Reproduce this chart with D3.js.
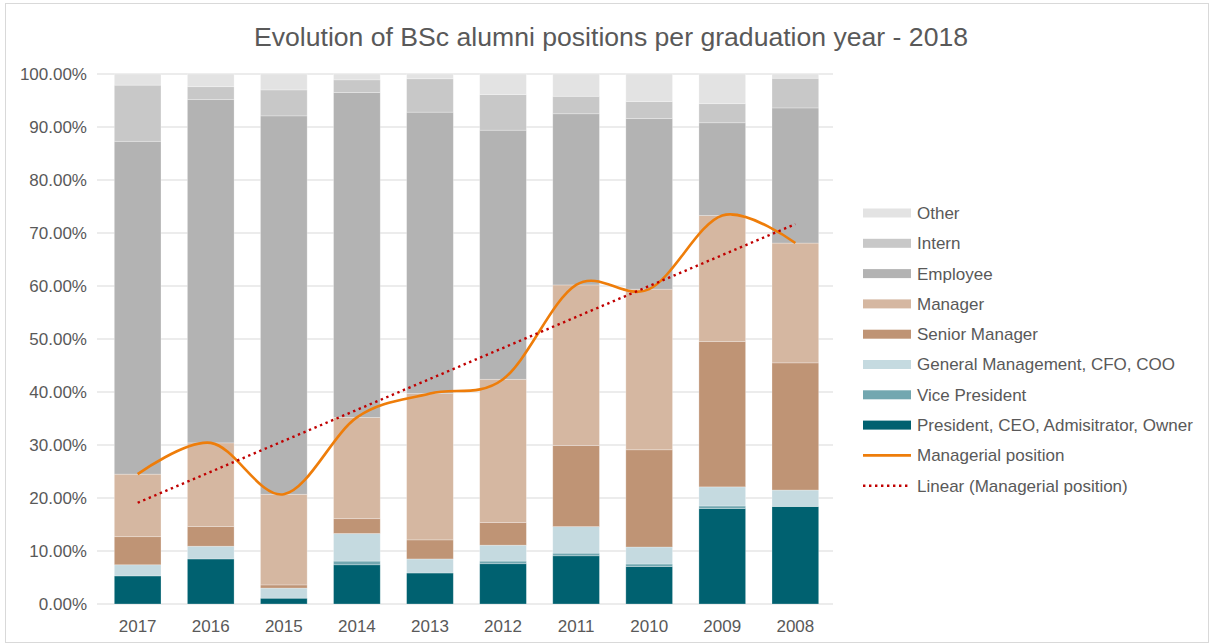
<!DOCTYPE html>
<html>
<head>
<meta charset="UTF-8">
<title>BSc alumni positions</title>
<script src="https://d3js.org/d3.v7.min.js"></script>
<style>
  body { margin: 0; background: #fff; }
  svg text { font-family: "Liberation Sans", Arial, sans-serif; fill: #595959; }
</style>
</head>
<body>
<svg id="chart" width="1214" height="644"></svg>
<script>
// graduation years (as shown, left to right)
var years = ["2017", "2016", "2015", "2014", "2013", "2012", "2011", "2010", "2009", "2008"];

// share of alumni per position, in %
var president = [5.3, 8.5, 1.1, 7.4, 5.85, 7.6, 9.1, 7.05, 18.0, 18.4];
var vicePresident = [0, 0, 0, 0.7, 0, 0.5, 0.5, 0.5, 0.5, 0];
var generalMgmt = [2.1, 2.4, 1.9, 5.2, 2.65, 3.0, 5.0, 3.2, 3.6, 3.1];
var seniorManager = [5.3, 3.7, 0.6, 2.8, 3.6, 4.25, 15.3, 18.35, 27.4, 24.0];
var manager = [11.8, 15.8, 17.1, 19.1, 27.6, 27.05, 30.3, 30.3, 23.8, 22.6];
var employee = [62.8, 64.8, 71.4, 61.3, 53.1, 47.0, 32.3, 32.2, 17.5, 25.5];
var intern = [10.6, 2.4, 4.9, 2.4, 6.3, 6.7, 3.3, 3.2, 3.6, 5.6];
var other = [2.1, 2.4, 3.0, 1.1, 0.9, 3.9, 4.2, 5.2, 5.6, 0.8];

var yTicks = [0, 10, 20, 30, 40, 50, 60, 70, 80, 90, 100];

var series = [
  { name: "President, CEO, Admisitrator, Owner", values: president, color: "#006170" },
  { name: "Vice President", values: vicePresident, color: "#72a7b0" },
  { name: "General Management, CFO, COO", values: generalMgmt, color: "#c5dae0" },
  { name: "Senior Manager", values: seniorManager, color: "#bf9475" },
  { name: "Manager", values: manager, color: "#d5b7a1" },
  { name: "Employee", values: employee, color: "#b3b3b3" },
  { name: "Intern", values: intern, color: "#c8c8c8" },
  { name: "Other", values: other, color: "#e3e3e3" }
];

// table for d3.stack
var rows = years.map(function(y, i) {
  var r = { year: y };
  series.forEach(function(s) { r[s.name] = s.values[i]; });
  return r;
});

// managerial position = president + VP + GM + senior manager + manager
var managerial = years.map(function(y, i) {
  return president[i] + vicePresident[i] + generalMgmt[i] + seniorManager[i] + manager[i];
});

var svg = d3.select("#chart");
var plotLeft = 97, plotRight = 833, plotTop = 74, plotBottom = 604;

svg.append("rect")
  .attr("x", 5.5).attr("y", 3.5)
  .attr("width", 1203).attr("height", 639)
  .attr("fill", "none").attr("stroke", "#d9d9d9");

svg.append("text")
  .attr("x", 611).attr("y", 46)
  .attr("text-anchor", "middle")
  .style("font-size", "26.6px")
  .text("Evolution of BSc alumni positions per graduation year - 2018");

var x = d3.scaleBand().domain(years).range([100.5, 832.5]).paddingInner(0.361).paddingOuter(0.189);
var y = d3.scaleLinear().domain([0, 100]).range([plotBottom, plotTop]);

// gridlines
svg.append("g")
  .selectAll("line")
  .data(yTicks)
  .enter().append("line")
  .attr("x1", plotLeft).attr("x2", plotRight)
  .attr("y1", function(d) { return y(d); })
  .attr("y2", function(d) { return y(d); })
  .attr("stroke", "#d9d9d9")
  .attr("stroke-width", 1);

// y tick labels
svg.append("g")
  .selectAll("text")
  .data(yTicks)
  .enter().append("text")
  .attr("x", 87)
  .attr("y", function(d) { return y(d); })
  .attr("dy", "0.35em")
  .attr("text-anchor", "end")
  .style("font-size", "17px")
  .text(function(d) { return d.toFixed(2) + "%"; });

// x tick labels
svg.append("g")
  .selectAll("text")
  .data(years)
  .enter().append("text")
  .attr("x", function(d) { return x(d) + x.bandwidth() / 2; })
  .attr("y", 632)
  .attr("text-anchor", "middle")
  .style("font-size", "17px")
  .text(function(d) { return d; });

// stacked bars
var stack = d3.stack().keys(series.map(function(s) { return s.name; }));
var stacked = stack(rows);

svg.append("g")
  .selectAll("g")
  .data(stacked)
  .enter().append("g")
  .attr("fill", function(d, i) { return series[i].color; })
  .selectAll("rect")
  .data(function(d) { return d; })
  .enter().append("rect")
  .attr("x", function(d) { return x(d.data.year); })
  .attr("width", x.bandwidth())
  .attr("y", function(d) { return y(d[1]); })
  .attr("height", function(d) { return y(d[0]) - y(d[1]); })
  .attr("stroke", "#ffffff")
  .attr("stroke-opacity", 0.35)
  .attr("stroke-width", 0.75);

// linear trend of managerial position
var n = managerial.length;
var mx = d3.mean(d3.range(n));
var my = d3.mean(managerial);
var slope = d3.sum(d3.range(n), function(i) { return (i - mx) * (managerial[i] - my); }) /
            d3.sum(d3.range(n), function(i) { return (i - mx) * (i - mx); });
var icpt = my - slope * mx;

var cx = function(i) { return x(years[i]) + x.bandwidth() / 2; };

svg.append("path")
  .datum(managerial)
  .attr("fill", "none")
  .attr("stroke", "#ee7d0a")
  .attr("stroke-width", 2.6)
  .attr("d", d3.line()
    .x(function(d, i) { return cx(i); })
    .y(function(d) { return y(d); })
    .curve(d3.curveCardinal.tension(0)));

svg.append("line")
  .attr("x1", cx(0)).attr("y1", y(icpt))
  .attr("x2", cx(n - 1)).attr("y2", y(icpt + slope * (n - 1)))
  .attr("stroke", "#c00000")
  .attr("stroke-width", 2.4)
  .attr("stroke-dasharray", "2.4 3.6");

// legend
var legendItems = series.slice().reverse().map(function(s) { return { name: s.name, color: s.color, type: "bar" }; });
legendItems.push({ name: "Managerial position", color: "#ee7d0a", type: "line" });
legendItems.push({ name: "Linear (Managerial position)", color: "#c00000", type: "dot" });

var legend = svg.append("g")
  .selectAll("g")
  .data(legendItems)
  .enter().append("g")
  .attr("transform", function(d, i) { return "translate(863," + (213 + i * 30.3) + ")"; });

legend.each(function(d) {
  var g = d3.select(this);
  if (d.type === "bar") {
    g.append("rect").attr("x", 0).attr("y", -4.5).attr("width", 48).attr("height", 9).attr("fill", d.color);
  } else if (d.type === "line") {
    g.append("line").attr("x1", 0).attr("x2", 48).attr("y1", 0).attr("y2", 0)
      .attr("stroke", d.color).attr("stroke-width", 2.6);
  } else {
    g.append("line").attr("x1", 0).attr("x2", 48).attr("y1", 0).attr("y2", 0)
      .attr("stroke", d.color).attr("stroke-width", 2.4).attr("stroke-dasharray", "2.4 3.6");
  }
  g.append("text").attr("x", 54).attr("y", 0).attr("dy", "0.35em")
    .style("font-size", "17px").text(d.name);
});
</script>
</body>
</html>
